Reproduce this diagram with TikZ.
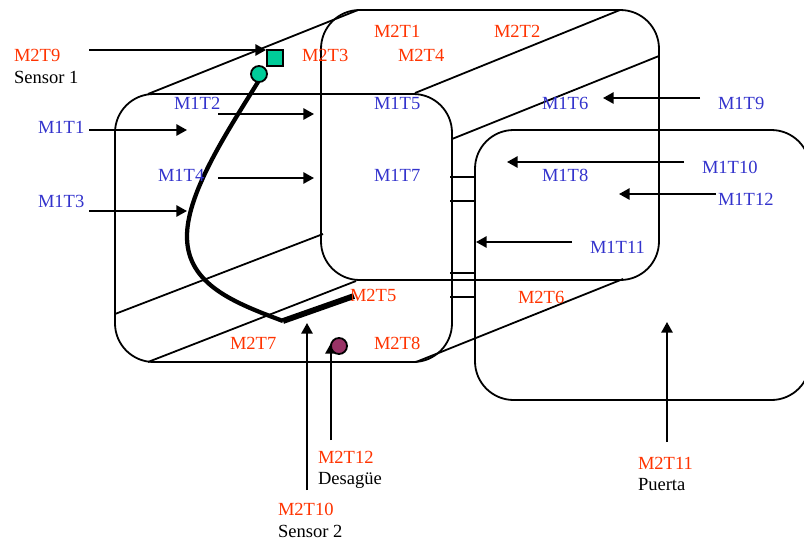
\documentclass[tikz,border=0pt]{standalone}
\usepackage{fontspec}
\setmainfont{Liberation Serif}
\usetikzlibrary{arrows.meta}
\definecolor{redt}{HTML}{FF3300}
\definecolor{bluet}{HTML}{3333CC}
\definecolor{greenf}{HTML}{00CC99}
\definecolor{purplef}{HTML}{993366}
\tikzset{
  x=0.75pt,y=-0.75pt,
  lbl/.style={anchor=base west,inner sep=0pt,outer sep=0pt,font=\fontsize{13.9pt}{15pt}\selectfont},
  rt/.style={lbl,text=redt},
  bt/.style={lbl,text=bluet},
  kt/.style={lbl,text=black},
  box/.style={draw=black,line width=1.35pt,rectangle,rounded corners=29pt,inner sep=0pt,outer sep=0pt},
  edge/.style={draw=black,line width=1.35pt},
  pointer/.style={draw=black,line width=1.35pt,-{Triangle[length=8pt,width=8.5pt]}},
}
\begin{document}
\begin{tikzpicture}
\useasboundingbox (0,0) rectangle (804,544);
\clip (0,0) rectangle (804,544);
% boxes
\node[box,minimum width=253.5pt,minimum height=202.5pt] (back) at (490,145) {};
\node[box,minimum width=251.25pt,minimum height=202.5pt] (door) at (642.5,265) {};
\node[box,minimum width=252.75pt,minimum height=201pt] (front) at (283.5,228) {};
% perspective edges
\coordinate (e1a) at (148,94);  \coordinate (e1b) at (358,10);
\coordinate (e2a) at (415,93);  \coordinate (e2b) at (620,10);
\coordinate (e3a) at (452,139); \coordinate (e3b) at (659,56);
\coordinate (e4a) at (115,314); \coordinate (e4b) at (323,234);
\coordinate (e5a) at (148,362); \coordinate (e5b) at (356,281);
\coordinate (e6a) at (416,362); \coordinate (e6b) at (623,279);
\foreach \n in {1,...,6} \draw[edge] (e\n a) -- (e\n b);
% ticks
\foreach \n/\y in {1/177,2/201,3/273,4/297}{
  \coordinate (t\n a) at (450,\y); \coordinate (t\n b) at (476,\y);
  \draw[edge] (t\n a) -- (t\n b);
}
% hose
\coordinate (h1) at (258,82);
\coordinate (h2) at (187,238);
\coordinate (h3) at (283,321);
\coordinate (h4) at (354,296);
\draw[line width=3.2pt] (h1) .. controls (225,135) and (186,195) .. (h2);
\draw[line width=3.2pt] (h2) .. controls (188,285) and (235,303) .. (h3);
\draw[line width=4.4pt] (h3) -- (h4);
% pointers
\coordinate (a1s) at (89,50);   \coordinate (a1e) at (266,50);
\coordinate (a2s) at (89,130);  \coordinate (a2e) at (187,130);
\coordinate (a3s) at (89,211);  \coordinate (a3e) at (187,211);
\coordinate (a4s) at (218,114); \coordinate (a4e) at (314,114);
\coordinate (a5s) at (218,178); \coordinate (a5e) at (314,178);
\coordinate (a6s) at (700,98);  \coordinate (a6e) at (603,98);
\coordinate (a7s) at (684,162); \coordinate (a7e) at (507,162);
\coordinate (a8s) at (716,194); \coordinate (a8e) at (619,194);
\coordinate (a9s) at (572,242); \coordinate (a9e) at (476,242);
\coordinate (a10s) at (307,490); \coordinate (a10e) at (307,323);
\coordinate (a11s) at (331,440); \coordinate (a11e) at (331,343);
\coordinate (a12s) at (667,442); \coordinate (a12e) at (667,322);
\foreach \n in {1,...,12} \draw[pointer] (a\n s) -- (a\n e);
% sensors and drain
\node[draw=black,line width=1.35pt,fill=greenf,minimum size=12pt,inner sep=0pt] (s1) at (275,58) {};
\node[draw=black,line width=1.35pt,fill=greenf,circle,minimum size=12pt,inner sep=0pt] (s1b) at (259,74) {};
\node[draw=black,line width=1.35pt,fill=purplef,circle,minimum size=12pt,inner sep=0pt] (dr) at (339,346) {};
% labels
\node[rt] (l1) at (374,37) {M2T1};
\node[rt] (l2) at (494,37) {M2T2};
\node[rt] (l3) at (302,61) {M2T3};
\node[rt] (l4) at (398,61) {M2T4};
\node[rt] (l5) at (350,301) {M2T5};
\node[rt] (l6) at (518,303) {M2T6};
\node[rt] (l7) at (230,349) {M2T7};
\node[rt] (l8) at (374,349) {M2T8};
\node[rt] (l9) at (14,61) {M2T9};
\node[kt] (l9b) at (14,83) {Sensor 1};
\node[rt] (l10) at (278,515) {M2T10};
\node[kt] (l10b) at (278,537) {Sensor 2};
\node[rt] (l11) at (638,469) {M2T11};
\node[kt] (l11b) at (638,490) {Puerta};
\node[rt] (l12) at (318,463) {M2T12};
\node[kt] (l12b) at (318,484) {Desagüe};
\node[bt] (b1) at (38,133) {M1T1};
\node[bt] (b2) at (174,109) {M1T2};
\node[bt] (b3) at (38,207) {M1T3};
\node[bt] (b4) at (158,181) {M1T4};
\node[bt] (b5) at (374,109) {M1T5};
\node[bt] (b6) at (542,109) {M1T6};
\node[bt] (b7) at (374,181) {M1T7};
\node[bt] (b8) at (542,181) {M1T8};
\node[bt] (b9) at (718,109) {M1T9};
\node[bt] (b10) at (702,173) {M1T10};
\node[bt] (b11) at (590,253) {M1T11};
\node[bt] (b12) at (718,205) {M1T12};
\end{tikzpicture}
\end{document}
